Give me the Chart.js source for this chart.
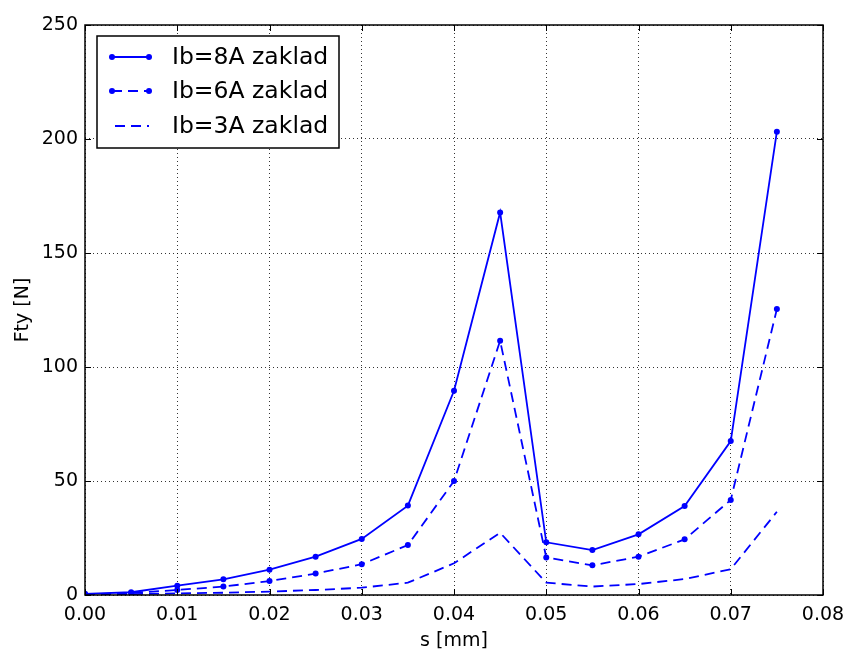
<!DOCTYPE html>
<html>
<head>
<meta charset="utf-8">
<script src="https://cdn.jsdelivr.net/npm/chart.js@4.4.0/dist/chart.umd.min.js"></script>
<style>
  html, body { margin: 0; padding: 0; background: #fff; }
  #wrap { width: 845px; height: 652px; }
</style>
</head>
<body>
<div id="wrap"><canvas id="chart" width="845" height="652"></canvas></div>
<script>
// gap s [mm]
const sValues = [0, 0.005, 0.01, 0.015, 0.02, 0.025, 0.03, 0.035, 0.04, 0.045, 0.05, 0.055, 0.06, 0.065, 0.07, 0.075];
// force Fty [N]
const ib8 = [0.5, 1.2, 4.1, 6.9, 11.1, 16.8, 24.6, 39.2, 89.6, 167.8, 23.1, 19.7, 26.6, 39.0, 67.5, 203.2];
const ib6 = [0.3, 0.9, 2.2, 3.7, 6.1, 9.4, 13.5, 21.9, 50.0, 111.5, 16.5, 13.0, 16.8, 24.4, 41.7, 125.4];
const ib3 = [0.1, 0.4, 0.7, 1.0, 1.5, 2.2, 3.2, 5.4, 13.9, 27.3, 5.4, 3.7, 4.8, 7.0, 11.3, 36.5];
const seriesLabels = ['Ib=8A zaklad', 'Ib=6A zaklad', 'Ib=3A zaklad'];
const xTicks = [0, 0.01, 0.02, 0.03, 0.04, 0.05, 0.06, 0.07, 0.08];
const yTicks = [0, 50, 100, 150, 200, 250];

const FONT = '"DejaVu Sans", sans-serif';
const BLUE = '#0000ff';
const DASH = [10, 6];

function points(ys) {
  return sValues.map((x, i) => ({ x: x, y: ys[i] }));
}

// frame, inward ticks and legend, matplotlib style
const frameAndLegend = {
  id: 'frameAndLegend',
  afterDraw(chart) {
    const ctx = chart.ctx;
    const { left, right, top, bottom } = chart.chartArea;
    const xs = chart.scales.x, ys = chart.scales.y;
    ctx.save();
    ctx.strokeStyle = '#000';
    ctx.lineWidth = 1.5;
    ctx.setLineDash([]);
    ctx.strokeRect(left, top, right - left, bottom - top);
    ctx.lineWidth = 1;
    ctx.beginPath();
    xTicks.forEach(v => {
      const px = Math.round(xs.getPixelForValue(v)) + 0.5;
      ctx.moveTo(px, bottom); ctx.lineTo(px, bottom - 6);
      ctx.moveTo(px, top); ctx.lineTo(px, top + 6);
    });
    yTicks.forEach(v => {
      const py = Math.round(ys.getPixelForValue(v)) + 0.5;
      ctx.moveTo(left, py); ctx.lineTo(left + 6, py);
      ctx.moveTo(right, py); ctx.lineTo(right - 6, py);
    });
    ctx.stroke();

    // legend
    const bx = 97, by = 36, bw = 242, bh = 112;
    ctx.fillStyle = '#fff';
    ctx.fillRect(bx, by, bw, bh);
    ctx.lineWidth = 1.5;
    ctx.strokeStyle = '#000';
    ctx.strokeRect(bx, by, bw, bh);
    const rows = [57, 91, 126];
    const dashes = [[], DASH, DASH];
    const markers = [true, true, false];
    ctx.font = '23.5px ' + FONT;
    ctx.textBaseline = 'middle';
    rows.forEach((ry, i) => {
      ctx.strokeStyle = BLUE;
      ctx.lineWidth = 1.8;
      ctx.setLineDash(dashes[i]);
      ctx.lineDashOffset = i === 2 ? -3 : 0;
      ctx.beginPath();
      ctx.moveTo(112, ry); ctx.lineTo(149, ry);
      ctx.stroke();
      ctx.setLineDash([]);
      if (markers[i]) {
        ctx.fillStyle = BLUE;
        [112, 149].forEach(mx => {
          ctx.beginPath(); ctx.arc(mx, ry, 3, 0, Math.PI * 2); ctx.fill();
        });
      }
      ctx.fillStyle = '#000';
      ctx.fillText(seriesLabels[i], 172, ry + 1);
    });
    ctx.restore();
  }
};

new Chart(document.getElementById('chart'), {
  type: 'line',
  data: {
    datasets: [
      { label: seriesLabels[0], data: points(ib8), borderColor: BLUE, backgroundColor: BLUE,
        borderWidth: 1.8, pointRadius: 3, pointBorderWidth: 0, tension: 0 },
      { label: seriesLabels[1], data: points(ib6), borderColor: BLUE, backgroundColor: BLUE,
        borderWidth: 1.8, borderDash: DASH, pointRadius: 3, pointBorderWidth: 0, tension: 0 },
      { label: seriesLabels[2], data: points(ib3), borderColor: BLUE, backgroundColor: BLUE,
        borderWidth: 1.8, borderDash: DASH, pointRadius: 0, tension: 0 }
    ]
  },
  options: {
    responsive: false,
    animation: false,
    layout: { padding: { left: 0, top: 25, right: 22, bottom: 0 } },
    plugins: {
      legend: { display: false },
      tooltip: { enabled: false }
    },
    scales: {
      x: {
        type: 'linear',
        min: 0, max: 0.08,
        afterBuildTicks: axis => { axis.ticks = xTicks.map(v => ({ value: v })); },
        afterFit: axis => { axis.height = 57; axis.paddingLeft = 0; axis.paddingRight = 0; },
        ticks: {
          color: '#000', font: { family: FONT, size: 19 }, padding: 9, maxRotation: 0,
          callback: v => v.toFixed(2)
        },
        grid: { color: '#000', lineWidth: 0.8, drawTicks: false },
        border: { display: false, dash: [1, 3] },
        title: { display: true, text: 's [mm]', color: '#000', font: { family: FONT, size: 19 }, padding: { top: 0, bottom: 0 } }
      },
      y: {
        min: 0, max: 250,
        afterBuildTicks: axis => { axis.ticks = yTicks.map(v => ({ value: v })); },
        afterFit: axis => { axis.width = 85; axis.paddingTop = 0; axis.paddingBottom = 0; },
        ticks: { color: '#000', font: { family: FONT, size: 19 }, padding: 7 },
        grid: { color: '#000', lineWidth: 0.8, drawTicks: false },
        border: { display: false, dash: [1, 3] },
        title: { display: true, text: 'Fty [N]', color: '#000', font: { family: FONT, size: 19 }, padding: { top: 12, bottom: 0 } }
      }
    }
  },
  plugins: [frameAndLegend]
});
</script>
</body>
</html>
